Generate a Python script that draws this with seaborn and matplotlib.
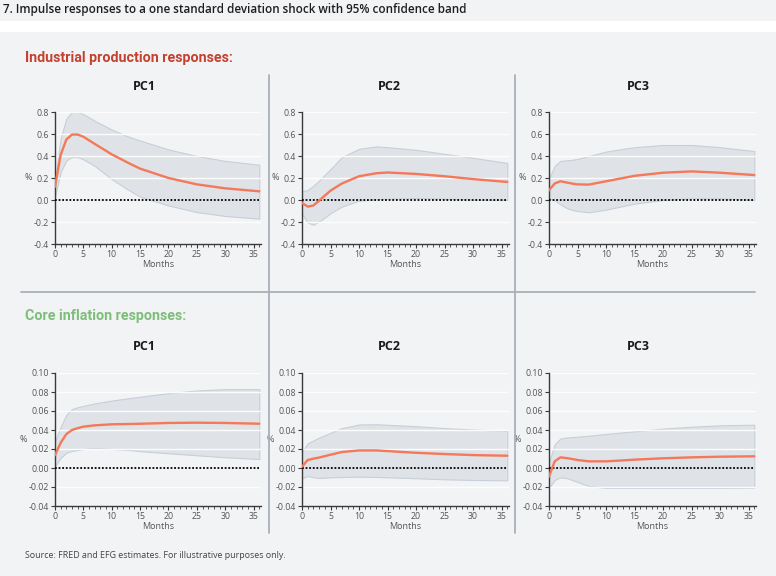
import matplotlib
matplotlib.use("Agg")
import matplotlib.pyplot as plt
import matplotlib.ticker as mticker
from matplotlib.patches import Rectangle
from matplotlib.lines import Line2D
import numpy as np
import pandas as pd
import seaborn as sns

# ---------------- data ----------------
months = [0, 1, 2, 3, 4, 5, 7, 10, 13, 15, 20, 25, 30, 36]

ip_pc1_mid = [0.12, 0.41, 0.55, 0.595, 0.595, 0.575, 0.51, 0.415, 0.335, 0.285, 0.20, 0.142, 0.106, 0.079]
ip_pc1_up = [0.18, 0.56, 0.74, 0.80, 0.80, 0.78, 0.72, 0.64, 0.575, 0.54, 0.46, 0.40, 0.355, 0.32]
ip_pc1_lo = [0.03, 0.255, 0.36, 0.39, 0.39, 0.37, 0.31, 0.19, 0.09, 0.03, -0.05, -0.11, -0.145, -0.17]

ip_pc2_mid = [-0.027, -0.06, -0.05, -0.006, 0.04, 0.085, 0.15, 0.216, 0.243, 0.25, 0.237, 0.216, 0.19, 0.164]
ip_pc2_up = [0.08, 0.09, 0.13, 0.175, 0.23, 0.28, 0.39, 0.465, 0.487, 0.48, 0.456, 0.42, 0.383, 0.337]
ip_pc2_lo = [-0.128, -0.204, -0.225, -0.195, -0.16, -0.12, -0.06, -0.006, 0.006, 0.012, 0.018, 0.012, 0.003, 0.0]

ip_pc3_mid = [0.088, 0.15, 0.17, 0.16, 0.15, 0.142, 0.14, 0.17, 0.20, 0.22, 0.248, 0.26, 0.248, 0.227]
ip_pc3_up = [0.197, 0.31, 0.355, 0.36, 0.365, 0.373, 0.40, 0.44, 0.465, 0.48, 0.50, 0.50, 0.48, 0.445]
ip_pc3_lo = [0.015, -0.003, -0.04, -0.07, -0.09, -0.10, -0.112, -0.088, -0.055, -0.033, 0.0, 0.015, 0.015, 0.0]

ci_pc1_mid = [0.0134, 0.0265, 0.0357, 0.040, 0.042, 0.0435, 0.0449, 0.046, 0.0463, 0.0466, 0.0474, 0.0477, 0.0474, 0.0466]
ci_pc1_up = [0.0276, 0.0435, 0.056, 0.062, 0.064, 0.0654, 0.068, 0.071, 0.0735, 0.075, 0.0788, 0.0816, 0.083, 0.083]
ci_pc1_lo = [0.0018, 0.0106, 0.016, 0.018, 0.019, 0.020, 0.0212, 0.020, 0.019, 0.0177, 0.0155, 0.0134, 0.0113, 0.0095]

ci_pc2_mid = [0.0014, 0.0084, 0.0098, 0.011, 0.0125, 0.014, 0.0168, 0.0185, 0.0185, 0.0178, 0.016, 0.0147, 0.0136, 0.0129]
ci_pc2_up = [0.017, 0.026, 0.029, 0.032, 0.0345, 0.037, 0.042, 0.0458, 0.046, 0.0455, 0.044, 0.042, 0.0405, 0.039]
ci_pc2_lo = [-0.0108, -0.0084, -0.0098, -0.0105, -0.0102, -0.0098, -0.0095, -0.0091, -0.0094, -0.0098, -0.0108, -0.0119, -0.0126, -0.013]

ci_pc3_mid = [-0.0091, 0.007, 0.0112, 0.0105, 0.0095, 0.0084, 0.007, 0.007, 0.008, 0.0088, 0.0102, 0.0112, 0.0119, 0.0123]
ci_pc3_up = [0.006, 0.025, 0.031, 0.032, 0.0325, 0.033, 0.034, 0.0358, 0.0375, 0.0386, 0.0414, 0.0435, 0.0449, 0.0456]
ci_pc3_lo = [-0.021, -0.0126, -0.0098, -0.0105, -0.0125, -0.0147, -0.019, -0.021, -0.021, -0.021, -0.021, -0.021, -0.021, -0.0207]

panel_titles = ["PC1", "PC2", "PC3"]
title_text = "7. Impulse responses to a one standard deviation shock with 95% confidence band"
ip_heading = "Industrial production responses:"
ci_heading = "Core inflation responses:"
source_text = "Source: FRED and EFG estimates. For illustrative purposes only."
x_label = "Months"
y_label = "%"

ip_ticks = [-0.4, -0.2, 0.0, 0.2, 0.4, 0.6, 0.8]
ci_ticks = [-0.04, -0.02, 0.00, 0.02, 0.04, 0.06, 0.08, 0.10]

# ---------------- style ----------------
BG = "#f2f3f5"
LINE = "#f4785a"
BAND = "#dfe3e8"
BAND_EDGE = "#c7cfd7"
SEP = "#a8b0b9"
RED = "#c4412f"
GREEN = "#7dbd79"

sns.set_theme(style="white", rc={
    "axes.facecolor": BG,
    "figure.facecolor": BG,
    "axes.edgecolor": "#3a3a3a",
})
plt.rcParams["font.family"] = ["Open Sans", "DejaVu Sans"]

W, H = 776, 576
fig = plt.figure(figsize=(W / 100, H / 100), dpi=100)
fig.patch.set_facecolor(BG)

def fx(px):
    return px / W

def fy(py):
    return 1 - py / H

# white strip under the title
fig.patches.append(Rectangle((0, fy(32)), 1, (32 - 21) / H, transform=fig.transFigure,
                             facecolor="white", edgecolor="none", zorder=0))

cols = [(55, 261), (302, 509), (549, 756)]
rows = [(112, 244), (373, 506)]

panels = [
    [(ip_pc1_mid, ip_pc1_lo, ip_pc1_up), (ip_pc2_mid, ip_pc2_lo, ip_pc2_up), (ip_pc3_mid, ip_pc3_lo, ip_pc3_up)],
    [(ci_pc1_mid, ci_pc1_lo, ci_pc1_up), (ci_pc2_mid, ci_pc2_lo, ci_pc2_up), (ci_pc3_mid, ci_pc3_lo, ci_pc3_up)],
]

for r, (top, bot) in enumerate(rows):
    ticks = ip_ticks if r == 0 else ci_ticks
    for c, (left, right) in enumerate(cols):
        ax = fig.add_axes([fx(left), fy(bot), fx(right - left), (bot - top) / H])
        mid, lo, up = panels[r][c]
        df = pd.DataFrame({"Months": months, "value": mid})
        ax.fill_between(months, lo, up, facecolor=BAND, edgecolor=BAND_EDGE, linewidth=0.8, zorder=2)
        for t in ticks:
            if t != 0:
                ax.axhline(t, color="white", lw=1.0, alpha=0.9, zorder=2.5)
        ax.plot([0, 36], [0, 0], color="black", lw=1.3, ls=(0, (1, 1)), zorder=3)
        sns.lineplot(data=df, x="Months", y="value", ax=ax, color=LINE, lw=1.7, zorder=4)
        ax.set_xlim(0, 36.3)
        ax.set_ylim(ticks[0], ticks[-1])
        ax.set_yticks(ticks)
        if r == 0:
            ax.yaxis.set_major_formatter(mticker.FormatStrFormatter("%.1f"))
        else:
            ax.yaxis.set_major_formatter(mticker.FormatStrFormatter("%.2f"))
        ax.set_xticks([0, 5, 10, 15, 20, 25, 30, 35])
        ax.xaxis.set_minor_locator(mticker.MultipleLocator(1))
        ax.tick_params(axis="both", which="major", labelsize=6.3, labelcolor="#555555",
                       length=3, width=0.8, color="#3a3a3a", pad=1.5, direction="out")
        ax.tick_params(axis="x", which="minor", length=2, width=0.6, color="#3a3a3a", direction="out")
        ax.tick_params(axis="both", which="both", bottom=True, left=True)
        for s in ["top", "right"]:
            ax.spines[s].set_visible(False)
        for s in ["left", "bottom"]:
            ax.spines[s].set_linewidth(1.0)
            ax.spines[s].set_color("#3a3a3a")
        ax.set_xlabel(x_label, fontsize=6.5, color="#555555", labelpad=0.5)
        ax.set_ylabel(y_label, fontsize=6.5, color="#555555", rotation=0, labelpad=4, va="center")
        ax.grid(False)

# panel titles
col_centres = [144, 389, 638]
for r, ty in enumerate([86, 347]):
    for c, cx in enumerate(col_centres):
        fig.text(fx(cx), fy(ty), panel_titles[c], ha="center", va="center",
                 fontsize=9, fontweight="bold", color="#1a1a1a")

# section headings
fig.text(fx(25), fy(58), ip_heading, ha="left", va="center", fontsize=10.3,
         fontweight="bold", color=RED, family=["Roboto", "DejaVu Sans"])
fig.text(fx(25), fy(316), ci_heading, ha="left", va="center", fontsize=10.3,
         fontweight="bold", color=GREEN, family=["Roboto", "DejaVu Sans"])

# main title and source
fig.text(fx(3), fy(9), title_text, ha="left", va="center", fontsize=8.4,
         fontweight="semibold", color="#1e1e1e")
fig.text(fx(25), fy(555), source_text, ha="left", va="center", fontsize=6.4, color="#444444")

# separators
fig.add_artist(Line2D([fx(269), fx(269)], [fy(75), fy(533)], transform=fig.transFigure, color=SEP, lw=1.3))
fig.add_artist(Line2D([fx(515), fx(515)], [fy(75), fy(533)], transform=fig.transFigure, color=SEP, lw=1.3))
fig.add_artist(Line2D([fx(21), fx(755)], [fy(292), fy(292)], transform=fig.transFigure, color=SEP, lw=1.3))

fig.savefig("out.png", dpi=100, facecolor=BG)
